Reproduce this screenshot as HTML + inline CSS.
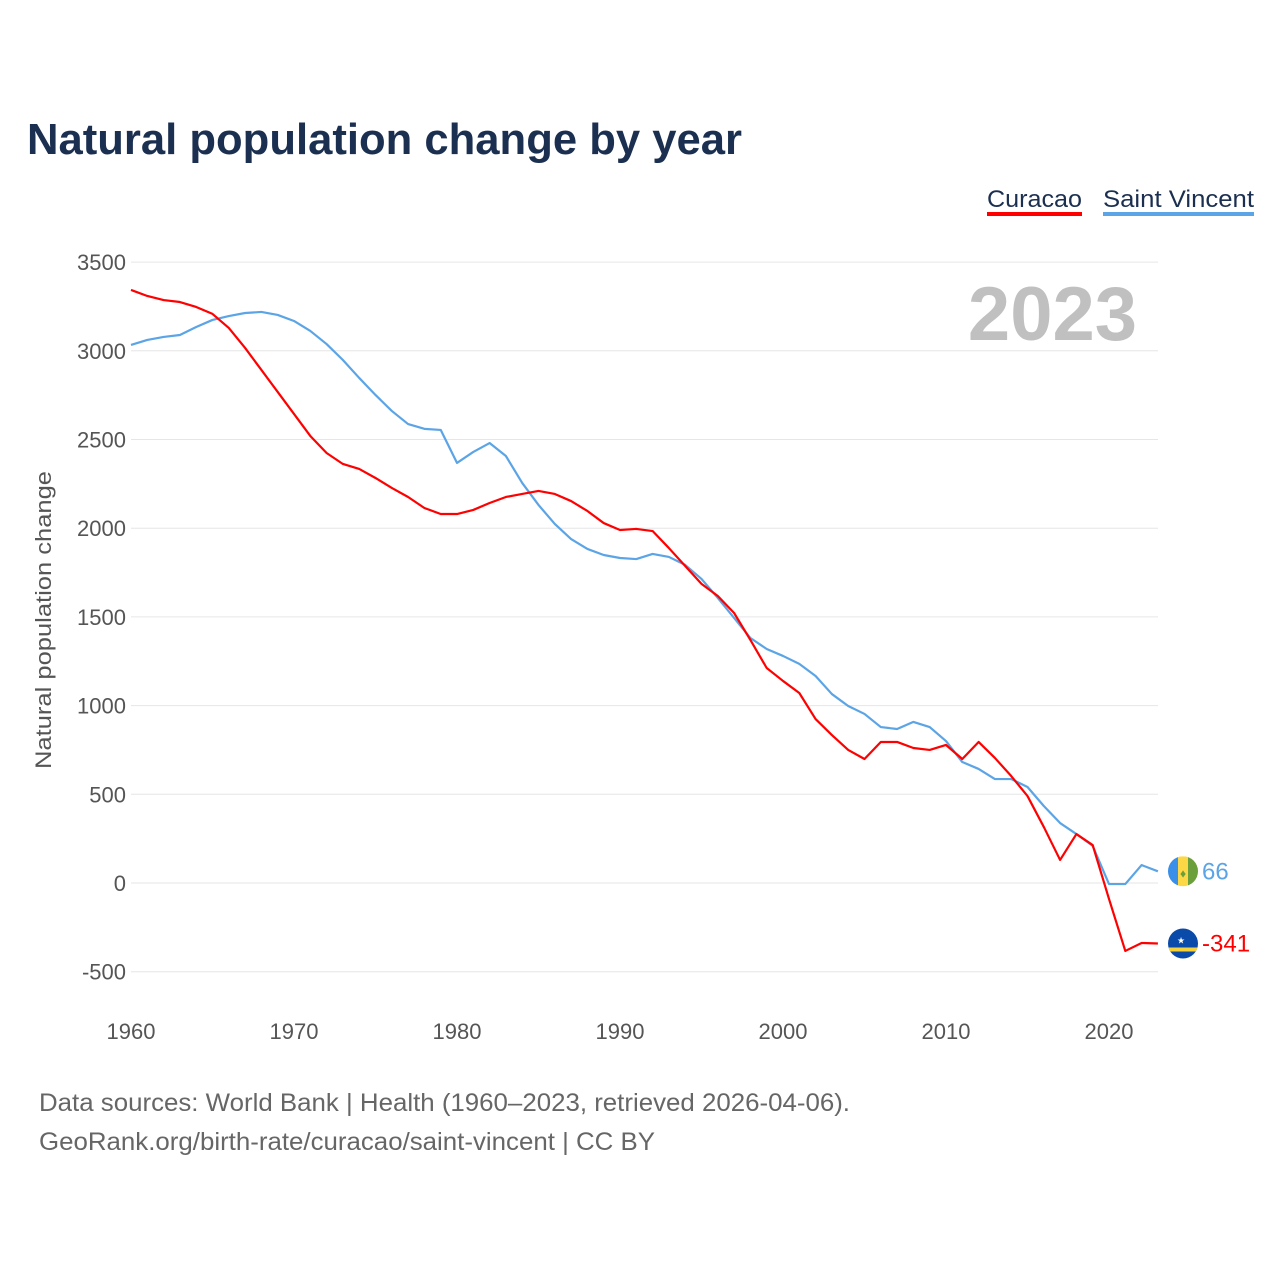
<!DOCTYPE html>
<html><head><meta charset="utf-8"><style>
body{margin:0;background:#fff;font-family:"Liberation Sans",sans-serif}
svg{display:block}
</style></head><body>
<svg id="c" width="1280" height="1280" xmlns="http://www.w3.org/2000/svg">
<text x="27" y="154" font-size="44" font-weight="bold" fill="#1b2f50" textLength="715" lengthAdjust="spacingAndGlyphs">Natural population change by year</text>
<g>
<text x="987" y="207" font-size="24" fill="#1b2f50" textLength="95" lengthAdjust="spacingAndGlyphs">Curacao</text>
<rect x="987" y="212" width="95" height="4" fill="#ff0000"/>
<text x="1103" y="207" font-size="24" fill="#1b2f50" textLength="151" lengthAdjust="spacingAndGlyphs">Saint Vincent</text>
<rect x="1103" y="212" width="151" height="4" fill="#5ba4e6"/>
</g>
<text x="1137" y="340" font-size="76" font-weight="bold" fill="#c0c0c0" text-anchor="end">2023</text>
<text transform="translate(51,620) rotate(-90)" font-size="22" fill="#555" text-anchor="middle" textLength="298" lengthAdjust="spacingAndGlyphs">Natural population change</text>
<g id="grid"></g><g id="yt"></g><g id="xt"></g><g id="lines"></g><g id="ends"></g>
<text x="39" y="1111" font-size="25" fill="#666" textLength="811" lengthAdjust="spacingAndGlyphs">Data sources: World Bank | Health (1960–2023, retrieved 2026-04-06).</text>
<text x="39" y="1150" font-size="25" fill="#666" textLength="616" lengthAdjust="spacingAndGlyphs">GeoRank.org/birth-rate/curacao/saint-vincent | CC BY</text>
</svg>
<script>
const years=[];for(let y=1960;y<=2023;y++)years.push(y);
const curacao=[3343,3309,3286,3275,3247,3208,3129,3016,2892,2768,2644,2520,2424,2362,2334,2283,2227,2176,2114,2080,2080,2103,2142,2176,2193,2210,2193,2153,2097,2029,1990,1996,1984,1888,1787,1686,1618,1522,1370,1212,1139,1071,924,834,750,699,795,795,761,750,778,699,795,705,603,490,316,130,276,214,-90,-383,-338,-341];
const saintVincent=[3033,3061,3078,3089,3134,3174,3196,3213,3219,3202,3168,3112,3038,2948,2847,2751,2661,2587,2560,2554,2368,2430,2480,2407,2255,2131,2024,1939,1883,1849,1832,1826,1855,1838,1793,1714,1607,1494,1381,1319,1280,1235,1167,1065,998,953,879,868,908,879,800,682,643,586,586,541,434,338,276,209,-6,-6,101,66];
const yTicks=[-500,0,500,1000,1500,2000,2500,3000,3500];
const xTicks=[1960,1970,1980,1990,2000,2010,2020];
const NS="http://www.w3.org/2000/svg";
const X=y=>131+(y-1960)*16.3;
const Y=v=>883-v*0.1774;
function mk(t,a,p){const e=document.createElementNS(NS,t);for(const k in a)e.setAttribute(k,a[k]);document.getElementById(p).appendChild(e);return e;}
yTicks.forEach(v=>{
 const l=mk('line',{x1:131,x2:1158,y1:Y(v),y2:Y(v),stroke:'#e6e6e6','stroke-width':1},'grid');
 
 
 const t=mk('text',{x:126,y:Y(v)+8,'font-size':22,fill:'#555','text-anchor':'end'},'yt');
 t.textContent=v;
 
 
});
xTicks.forEach(v=>{
 const t=mk('text',{x:X(v),y:1039,'font-size':22,fill:'#555','text-anchor':'middle'},'xt');
 t.textContent=v;
 
 
});
function line(d,c,n){
 const p=mk('polyline',{points:d.map((v,i)=>X(years[i])+','+Y(v)).join(' '),fill:'none',stroke:c,'stroke-width':2.2,'stroke-linejoin':'round'},'lines');
 
 
}
line(saintVincent,'#5ba4e6','line-saint-vincent');
line(curacao,'#ff0000','line-curacao');
function end(d,c,n,flag){
 const v=d[d.length-1],y=Y(v),x=1183;
 const g=mk('g',{},'ends');
 
 
 if(flag==='vc'){
  g.innerHTML=`<clipPath id="cv"><circle cx="${x}" cy="${y}" r="15"/></clipPath><g clip-path="url(#cv)"><rect x="${x-15}" y="${y-15}" width="10" height="30" fill="#3a8fe8"/><rect x="${x-5}" y="${y-15}" width="10" height="30" fill="#fcd846"/><rect x="${x+5}" y="${y-15}" width="10" height="30" fill="#6a9f3c"/><text x="${x}" y="${y+6}" font-size="12" fill="#6a9f3c" text-anchor="middle">♦</text></g>`;
 }else{
  g.innerHTML=`<clipPath id="cc"><circle cx="${x}" cy="${y}" r="15"/></clipPath><g clip-path="url(#cc)"><rect x="${x-15}" y="${y-15}" width="30" height="30" fill="#0a4aa8"/><rect x="${x-15}" y="${y+4}" width="30" height="4" fill="#f6d23a"/><text x="${x-6}" y="${y}" font-size="9" fill="#fff">★</text></g>`;
 }
 const t=mk('text',{x:1202,y:y+8,'font-size':24,fill:c},'ends');
 t.textContent=v;
 
 
}
end(saintVincent,'#5ba4e6','end-marker-saint-vincent','vc');
end(curacao,'#ff0000','end-marker-curacao','cw');
</script>
</body></html>
